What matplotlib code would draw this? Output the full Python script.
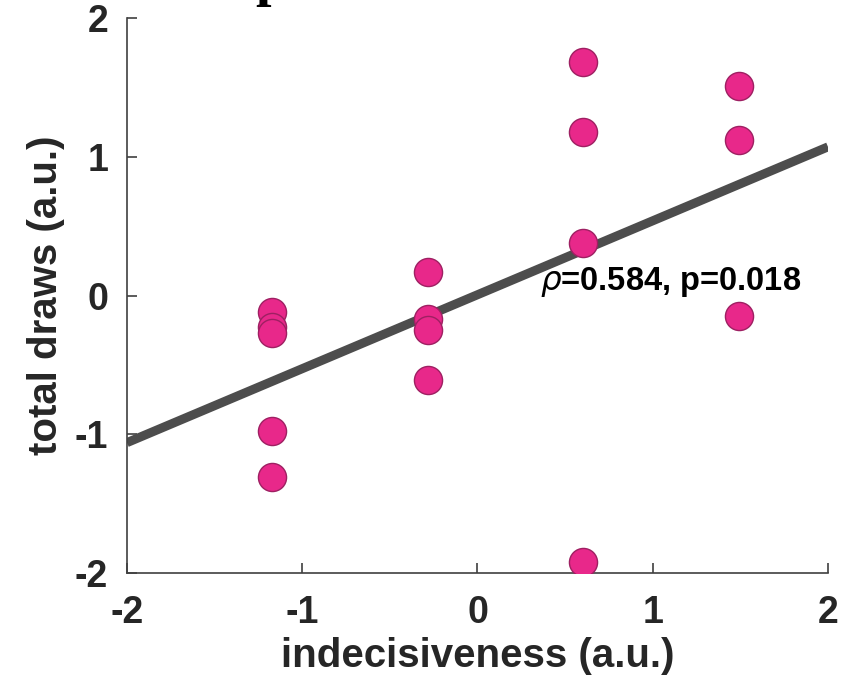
"""Scatter of total draws vs indecisiveness with a least-squares line."""

import numpy as np
import matplotlib
matplotlib.use("Agg")
import matplotlib.pyplot as plt

# z-scored values
indecisiveness = [-1.17, -1.17, -1.17, -1.17, -1.17,
                  -0.28, -0.28, -0.28, -0.28,
                  0.60, 0.60, 0.60, 0.60,
                  1.49, 1.49, 1.49]
total_draws = [-0.12, -0.23, -0.27, -0.98, -1.31,
               0.17, -0.17, -0.245, -0.61,
               1.68, 1.18, 0.38, -1.92,
               1.51, 1.12, -0.15]
stats_label = r"$\rho$=0.584, p=0.018"
ticks = [-2, -1, 0, 1, 2]

plt.rcParams["font.family"] = ["Liberation Sans", "DejaVu Sans"]

x = np.array(indecisiveness)
y = np.array(total_draws)
slope, intercept = np.polyfit(x, y, 1)

fig = plt.figure(figsize=(8.59, 6.82), dpi=100)
ax = fig.add_axes([0.1478, 0.1598, 0.8161, 0.8138])

xs = np.array([-2, 2])
ax.plot(xs, slope * xs + intercept, color="#4d4d4d", lw=6.5,
        solid_capstyle="butt", zorder=2)
ax.scatter(x, y, s=410, color="#e8288a", edgecolor="#9e2062",
           linewidth=1.0, zorder=3)

ax.text(0.357, 0.043, stats_label, fontsize=23.5, fontweight="bold",
        ha="left", va="baseline", color="black", zorder=4)

ax.set_xlim(-2, 2)
ax.set_ylim(-2, 2)
ax.set_xticks(ticks)
ax.set_yticks(ticks)
ax.set_xticklabels([str(t) for t in ticks])
ax.set_yticklabels([str(t) for t in ticks])
for side in ("top", "right"):
    ax.spines[side].set_visible(False)
for side in ("left", "bottom"):
    ax.spines[side].set_color("#404040")
    ax.spines[side].set_linewidth(1.2)
ax.tick_params(direction="in", length=7, width=1.2, color="#404040",
               labelsize=27, labelcolor="#262626")
ax.tick_params(axis="x", pad=16)
ax.tick_params(axis="y", pad=13.5)
for lab in ax.get_xticklabels() + ax.get_yticklabels():
    lab.set_fontweight("bold")

ax.set_xlabel("indecisiveness (a.u.)", fontsize=29, fontweight="bold",
              color="#262626", labelpad=4)
ax.set_ylabel("total draws (a.u.)", fontsize=29, fontweight="bold",
              color="#262626", labelpad=7)

# clipped title descender at the very top of the image
fig.text(0.297, 1.007, "p", family="Liberation Serif", fontweight="bold",
         fontsize=40, ha="left", va="baseline", color="black")

fig.savefig("out.png", dpi=100)
plt.close(fig)
